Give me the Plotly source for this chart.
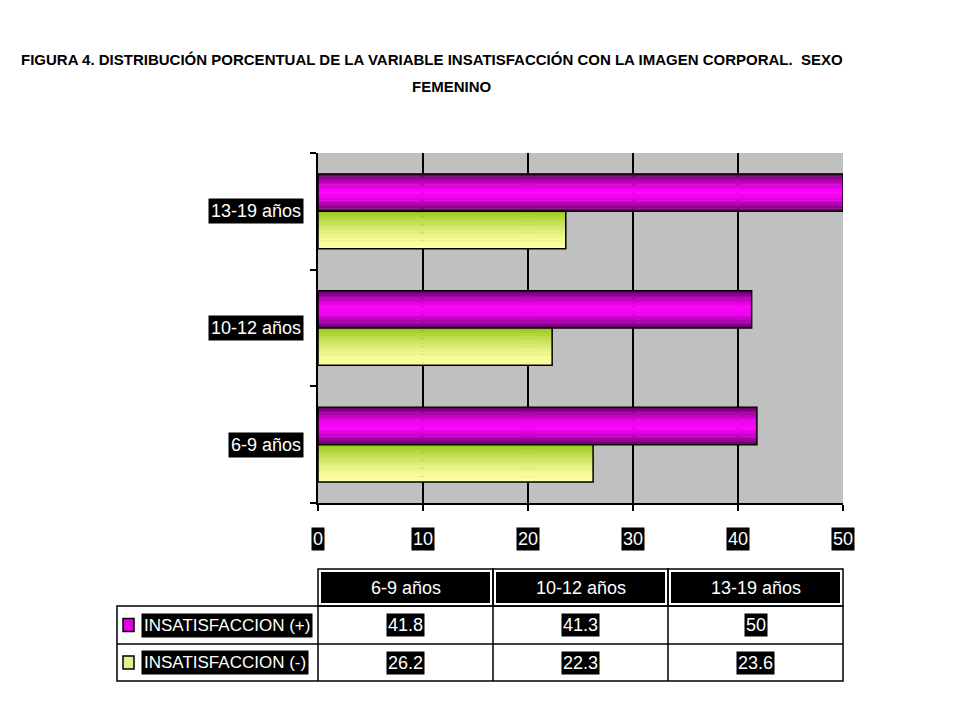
import plotly.graph_objects as go

# data
categories = ['6-9 años', '10-12 años', '13-19 años']
insat_pos = [41.8, 41.3, 50]
insat_neg = [26.2, 22.3, 23.6]
series_names = ['INSATISFACCION (+)', 'INSATISFACCION (-)']
x_ticks = [0, 10, 20, 30, 40, 50]

FONT = 'Liberation Sans, Arial, sans-serif'

# the page puts the figure 8px in from the top-left corner
OFF = 8
# plot area in reference pixels
L, R, T, B = 318, 843, 153, 503


def px(x):
    return (x - L) / (R - L)


def py(y):
    return (B - y) / (B - T)


def lerp(c1, c2, t):
    return 'rgb(%d,%d,%d)' % tuple(round(a + (b - a) * t) for a, b in zip(c1, c2))


def magenta(t):
    s = 1 - abs(2 * t - 1) ** 1.6
    return lerp((95, 0, 95), (255, 0, 255), s)


def green(t):
    return lerp((255, 255, 160), (150, 200, 20), t ** 1.6)


fig = go.Figure()

bar_w = 0.32
n = 14
for vals, base, colfn in [(insat_pos, 0.0, magenta), (insat_neg, -bar_w, green)]:
    # gradient made of thin slices
    for k in range(n):
        t = (k + 0.5) / n
        fig.add_trace(go.Bar(
            y=categories, x=vals, orientation='h',
            offset=base + k * bar_w / n, width=bar_w / n * 1.08,
            marker=dict(color=colfn(t), line=dict(width=0)),
            hoverinfo='skip', showlegend=False))
    fig.add_trace(go.Bar(
        y=categories, x=vals, orientation='h',
        offset=base, width=bar_w,
        marker=dict(color='rgba(0,0,0,0)', line=dict(color='black', width=1.5)),
        showlegend=False))

annotations = []
shapes = []


def label(text, x, y, xref='paper', yref='paper', size=17, xanchor='center',
          bg='black', color='white', pad=1):
    annotations.append(dict(
        text=text, xref=xref, yref=yref, x=x, y=y, xanchor=xanchor, yanchor='middle',
        showarrow=False, bgcolor=bg, borderpad=pad,
        font=dict(family=FONT, size=size, color=color)))


# title
label('<b>FIGURA 4. DISTRIBUCIÓN PORCENTUAL DE LA VARIABLE INSATISFACCIÓN CON LA IMAGEN CORPORAL.  SEXO</b>',
      px(432), py(60), size=15, bg='rgba(0,0,0,0)', color='black', pad=0)
label('<b>FEMENINO</b>', px(452), py(87), size=15, bg='rgba(0,0,0,0)', color='black', pad=0)

# category labels (white on black)
for c in categories:
    label(c, px(304), c, yref='y', size=18, xanchor='right', pad=2)

# x tick labels
for v in x_ticks:
    label(str(v), v, py(539), xref='x', size=18)

# data table
cols = [px(318), px(493), px(668), px(843)]
hdr_top, hdr_bot = py(569), py(606)
row_lines = [py(606), py(644), py(681)]
leg_left = px(117)
inset_x = 3 / (R - L)
inset_y = 3 / (B - T)
line = dict(color='black', width=1.5)

for j, c in enumerate(categories):
    shapes.append(dict(type='rect', xref='paper', yref='paper',
                       x0=cols[j], x1=cols[j + 1], y0=hdr_bot, y1=hdr_top, line=line))
    shapes.append(dict(type='rect', xref='paper', yref='paper',
                       x0=cols[j] + inset_x, x1=cols[j + 1] - inset_x,
                       y0=hdr_bot + inset_y, y1=hdr_top - inset_y,
                       fillcolor='black', line=dict(width=0)))
    label(c, (cols[j] + cols[j + 1]) / 2, (hdr_top + hdr_bot) / 2, size=18, pad=0)

shapes.append(dict(type='rect', xref='paper', yref='paper', x0=leg_left, x1=cols[-1],
                   y0=row_lines[2], y1=row_lines[0], line=line))
shapes.append(dict(type='line', xref='paper', yref='paper', x0=leg_left, x1=cols[-1],
                   y0=row_lines[1], y1=row_lines[1], line=line))
for xc in cols[:-1]:
    shapes.append(dict(type='line', xref='paper', yref='paper', x0=xc, x1=xc,
                       y0=row_lines[2], y1=row_lines[0], line=line))

marker_cols = ['#e400e4', '#e4f08a']
for i, (name, vals) in enumerate(zip(series_names, [insat_pos, insat_neg])):
    yc = (row_lines[i] + row_lines[i + 1]) / 2
    shapes.append(dict(type='rect', xref='paper', yref='paper',
                       x0=px(123), x1=px(134), y0=yc - 6.5 / (B - T), y1=yc + 6.5 / (B - T),
                       fillcolor=marker_cols[i], line=dict(color='black', width=1.5)))
    label(name, px(141), yc, size=17, xanchor='left', pad=2)
    for j, v in enumerate(vals):
        label(f'{v:g}', (cols[j] + cols[j + 1]) / 2, yc, size=18)

fig.update_layout(
    width=960, height=720, autosize=False,
    margin=dict(l=L - OFF, r=960 - R + OFF, t=T - OFF, b=720 - B + OFF),
    paper_bgcolor='white', plot_bgcolor='#c0c0c0',
    barmode='overlay', showlegend=False,
    xaxis=dict(range=[0, 50], tickvals=x_ticks, showticklabels=False,
               showgrid=True, gridcolor='black', gridwidth=1.5,
               ticks='outside', ticklen=6, tickcolor='black', tickwidth=1.5,
               showline=True, linecolor='black', linewidth=1.5, zeroline=False,
               fixedrange=True),
    yaxis=dict(type='category', categoryorder='array', categoryarray=categories,
               range=[-0.5, 2.5], showticklabels=False, showgrid=False,
               tickson='boundaries', ticks='outside', ticklen=6, tickcolor='black',
               tickwidth=1.5, showline=True, linecolor='black', linewidth=1.5,
               fixedrange=True),
    annotations=annotations, shapes=shapes,
)

fig.write_html('out.html')
